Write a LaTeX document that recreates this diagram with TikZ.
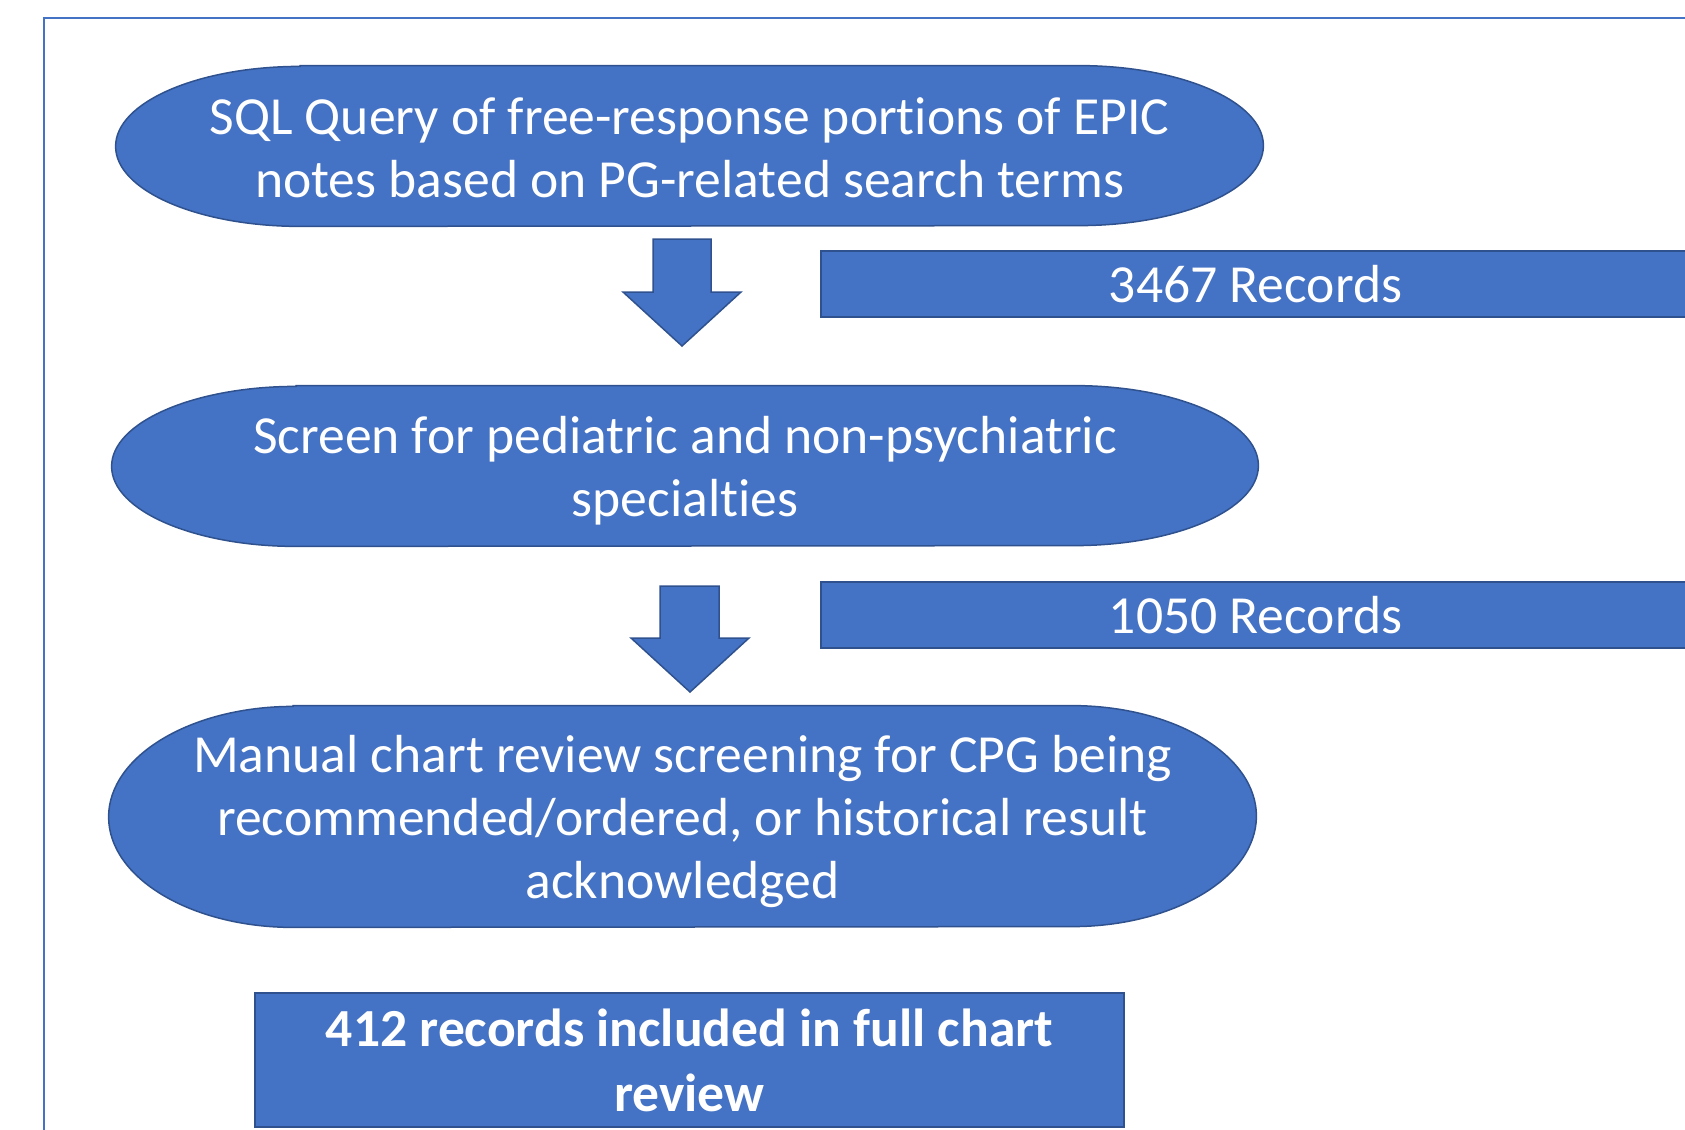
\documentclass[tikz,border=0pt]{standalone}
\usepackage{fontspec}
\setmainfont[Ligatures=NoCommon]{Carlito}
\usetikzlibrary{backgrounds}

\definecolor{boxfill}{HTML}{4472C4}
\definecolor{boxline}{HTML}{2F528F}
\definecolor{framecol}{HTML}{4472C4}

\tikzset{
  stage/.style={draw=none, inner sep=0pt, align=center, text=white,
    font=\fontsize{26.8pt}{31.7pt}\selectfont},
  recbox/.style={draw=boxline, fill=boxfill, line width=0.75pt, inner sep=0pt,
    align=center, text=white, font=\fontsize{26.8pt}{31.7pt}\selectfont},
  termfill/.style={draw=boxline, fill=boxfill, line width=0.75pt},
  blockarrow/.style={draw=boxline, fill=boxfill, line width=0.75pt, line join=miter},
  frameline/.style={draw=framecol, line width=1pt}
}

% terminator outline around a node: flat top and bottom, half-elliptic ends;
% #4 raises the outline so the text sits just below its middle
\newcommand{\termshape}[4]{%
  \path[termfill] ([xshift=#2, yshift=#4]#1.north west)
    -- ([xshift=-#2, yshift=#4]#1.north east)
    arc[start angle=90, end angle=-90, x radius=#2, y radius=#3]
    -- ([xshift=#2, yshift=#4]#1.south west)
    arc[start angle=270, end angle=90, x radius=#2, y radius=#3] -- cycle;}

\begin{document}
\begin{tikzpicture}[x=0.5pt, y=-0.5pt]
\useasboundingbox (0,0) rectangle (1685,1129);

% outer frame
\draw[frameline] (44,1140) -- (44,18) -- (1700,18);

% process stages
\node[stage, minimum width=573.5pt, minimum height=80pt] (q) at (689.5,148)
  {SQL Query of free-response portions of EPIC\\notes based on PG-related search terms};
\node[stage, minimum width=573pt, minimum height=80pt] (s) at (685,471)
  {Screen for pediatric and non-psychiatric\\specialties};
\node[stage, minimum width=573.5pt, minimum height=110.5pt] (m) at (682.5,821.5)
  {Manual chart review screening for CPG being\\recommended/ordered, or historical result\\acknowledged};

\begin{scope}[on background layer]
  \termshape{q}{92.3pt}{40pt}{1pt}
  \termshape{s}{92.2pt}{40pt}{2.5pt}
  \termshape{m}{92.3pt}{55.25pt}{2.5pt}
\end{scope}

% record counts
\node[recbox, minimum width=434.5pt, minimum height=33pt] (r1) at (1255.5,284) {3467 Records};
\node[recbox, minimum width=434.5pt, minimum height=33pt] (r2) at (1255.5,615) {1050 Records};

% result
\node[recbox, minimum width=434.5pt, minimum height=67pt, font=\fontsize{26.8pt}{32.5pt}\selectfont\bfseries]
  (f) at (689.5,1060) {412 records included in full chart\\review};

% block arrows between stages
\coordinate (a1) at (682,239);
\coordinate (a2) at (689,586);
\path[blockarrow] (a1) ++(-29,0) -- ++(0,53) -- ++(-30,0) -- ++(59,54) -- ++(59,-54)
  -- ++(-30,0) -- ++(0,-53) -- cycle;
\path[blockarrow] (a2) ++(-29,0) -- ++(0,52) -- ++(-29,0) -- ++(59,54) -- ++(59,-54)
  -- ++(-30,0) -- ++(0,-52) -- cycle;
\end{tikzpicture}
\end{document}
